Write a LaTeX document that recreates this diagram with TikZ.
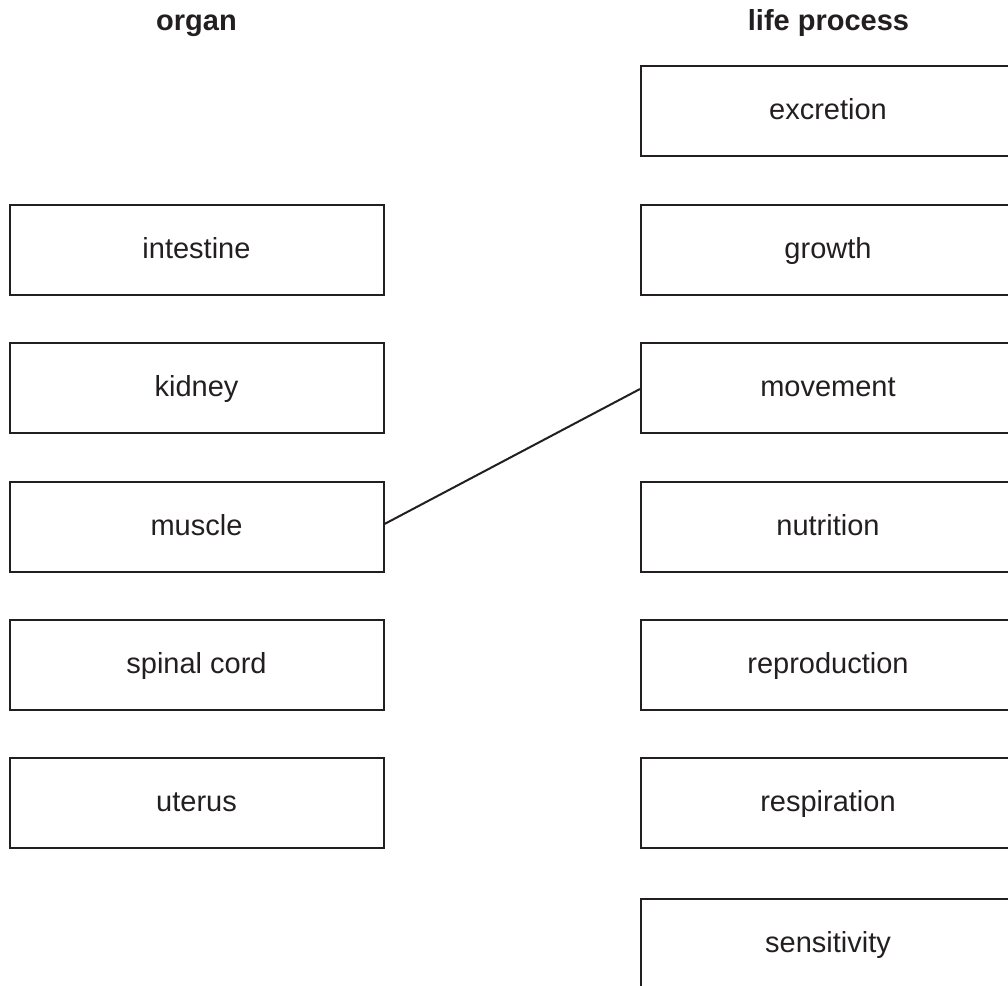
\documentclass[tikz,border=0pt]{standalone}
\usepackage{fontspec}
\setmainfont{Liberation Sans}
\definecolor{ink}{HTML}{231F20}
\begin{document}
\begin{tikzpicture}[x=0.5pt,y=-0.5pt,
  every node/.style={font=\fontsize{14.5}{17}\selectfont, text=ink},
  box/.style={draw=ink, line width=1pt, minimum width=187pt, minimum height=45pt, inner sep=0pt, text height=10pt, text depth=1.5pt},
  head/.style={font=\fontsize{14.5}{17}\selectfont\bfseries, anchor=base, inner sep=0pt},
  link/.style={draw=ink, line width=1pt}]
\useasboundingbox (0,0) rectangle (1008,986);
\begin{scope}
\clip (0,0) rectangle (1008,986);
\node[head] (hL) at (196.5,30) {organ};
\node[head] (hR) at (828.5,30.5) {life process};
\node[box] (intestine) at (196.5,249.5) {intestine};
\node[box] (kidney) at (196.5,388) {kidney};
\node[box] (muscle) at (196.5,527) {muscle};
\node[box] (spinal) at (196.5,665) {spinal cord};
\node[box] (uterus) at (196.5,803) {uterus};
\node[box] (excretion) at (828,111) {excretion};
\node[box] (growth) at (828,250) {growth};
\node[box] (movement) at (828,388) {movement};
\node[box] (nutrition) at (828,527) {nutrition};
\node[box] (reproduction) at (828,665) {reproduction};
\node[box] (respiration) at (828,803) {respiration};
\node[box] (sensitivity) at (828,944) {sensitivity};
\draw[link] ([yshift=1.5pt]muscle.east) -- ([yshift=-0.5pt]movement.west);
\end{scope}
\end{tikzpicture}
\end{document}
